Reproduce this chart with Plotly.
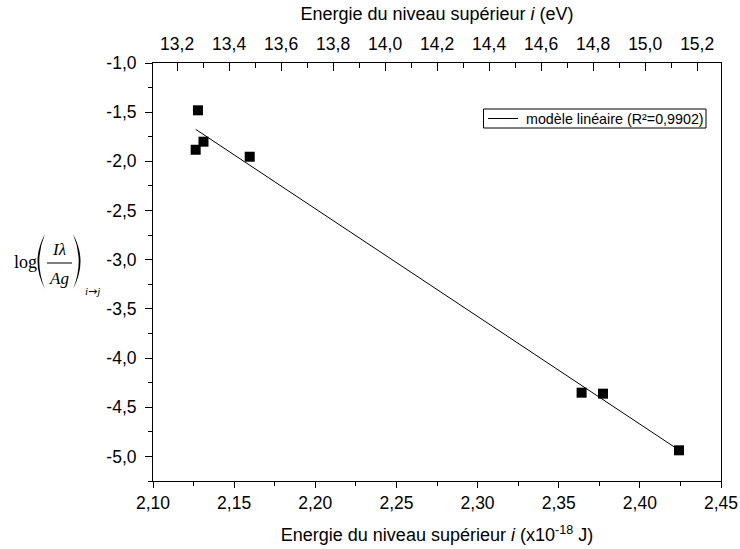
import numpy as np
import plotly.graph_objects as go

# ---- data ----
energy_J = [2.1263, 2.1277, 2.1311, 2.1596, 2.3641, 2.3773, 2.4241]   # x10^-18 J
log_ratio = [-1.882, -1.481, -1.800, -1.953, -4.352, -4.362, -4.938]
legend_label = "modèle linéaire (R²=0,9902)"

x_tickvals = [2.10, 2.15, 2.20, 2.25, 2.30, 2.35, 2.40, 2.45]
x_ticklabels = ["2,10", "2,15", "2,20", "2,25", "2,30", "2,35", "2,40", "2,45"]
x2_tickvals = [13.2, 13.4, 13.6, 13.8, 14.0, 14.2, 14.4, 14.6, 14.8, 15.0, 15.2]
x2_ticklabels = ["13,2", "13,4", "13,6", "13,8", "14,0", "14,2", "14,4", "14,6", "14,8", "15,0", "15,2"]
y_tickvals = [-1.0, -1.5, -2.0, -2.5, -3.0, -3.5, -4.0, -4.5, -5.0]
y_ticklabels = ["-1,0", "-1,5", "-2,0", "-2,5", "-3,0", "-3,5", "-4,0", "-4,5", "-5,0"]

J_TO_EV = 1e-18 / 1.602176634e-19
energy_eV = [e * J_TO_EV for e in energy_J]

# linear fit
slope, intercept = np.polyfit(energy_J, log_ratio, 1)
fit_x = [min(energy_J), max(energy_J)]
fit_y = [slope * v + intercept for v in fit_x]

W, H = 740, 549
ML, MR, MT, MB = 153, 19, 63, 68
PW, PH = W - ML - MR, H - MT - MB

def px(xp):
    return (xp - ML) / PW

def py(yp):
    return (H - MB - yp) / PH

fig = go.Figure()
fig.add_trace(go.Scatter(x=energy_J, y=log_ratio, mode="markers",
                         marker=dict(symbol="square", size=10, color="black"),
                         showlegend=False, hoverinfo="skip"))
fig.add_trace(go.Scatter(x=fit_x, y=fit_y, mode="lines",
                         line=dict(color="black", width=1), name=legend_label,
                         showlegend=False))
fig.add_trace(go.Scatter(x=energy_eV, y=log_ratio, xaxis="x2", mode="markers",
                         marker=dict(opacity=0), showlegend=False, hoverinfo="skip"))

tickfont = dict(family="Liberation Sans, Arial", size=17.5, color="black")
titlefont = dict(family="Liberation Sans, Arial", size=18, color="black")

fig.update_layout(
    width=W, height=H,
    margin=dict(l=ML, r=MR, t=MT, b=MB, autoexpand=False),
    paper_bgcolor="white", plot_bgcolor="white",
    font=dict(family="Liberation Sans, Arial", color="black"),
    showlegend=False,
    xaxis=dict(range=[2.10, 2.45], tickmode="array", tickvals=x_tickvals, ticktext=x_ticklabels,
               ticks="outside", ticklen=6, tickwidth=1, tickcolor="black",
               showline=True, linecolor="black", linewidth=1, mirror=False,
               showgrid=False, zeroline=False, tickfont=tickfont, automargin=False,
               minor=dict(tickmode="linear", tick0=2.10, dtick=0.025, ticks="outside",
                          ticklen=4, tickcolor="black", showgrid=False),
               title=dict(text="Energie du niveau supérieur <i>i</i> (x10<sup>-18</sup> J)",
                          font=titlefont, standoff=16)),
    xaxis2=dict(overlaying="x", side="top", range=[2.10 * J_TO_EV, 2.45 * J_TO_EV],
                tickmode="array", tickvals=x2_tickvals, ticktext=x2_ticklabels,
                ticks="inside", ticklen=8, tickwidth=1, tickcolor="black",
                showline=True, linecolor="black", linewidth=1, automargin=False,
                showgrid=False, zeroline=False, tickfont=tickfont, ticklabelstandoff=5,
                minor=dict(tickmode="linear", tick0=13.1, dtick=0.1, ticks="inside",
                           ticklen=5, tickcolor="black", showgrid=False),
                title=dict(text="Energie du niveau supérieur <i>i</i> (eV)",
                           font=titlefont, standoff=8)),
    yaxis=dict(range=[-5.25, -1.0], tickmode="array", tickvals=y_tickvals, ticktext=y_ticklabels,
               ticks="outside", ticklen=7, tickwidth=1, tickcolor="black",
               showline=True, linecolor="black", linewidth=1, mirror=True,
               showgrid=False, zeroline=False, tickfont=tickfont, automargin=False,
               ticklabelstandoff=5,
               minor=dict(tickmode="linear", tick0=-1.0, dtick=0.25, ticks="outside",
                          ticklen=4, tickcolor="black", showgrid=False)),
)

# legend box (drawn manually to match the compact frame of the reference)
fig.add_shape(type="rect", xref="paper", yref="paper",
              x0=px(483.5), x1=px(706), y0=py(109), y1=py(128),
              line=dict(color="black", width=1), fillcolor="white", layer="above")
fig.add_shape(type="line", xref="paper", yref="paper",
              x0=px(488), x1=px(518), y0=py(118.5), y1=py(118.5),
              line=dict(color="black", width=1), layer="above")
fig.add_annotation(text=legend_label, x=px(524), y=py(118.5), xref="paper", yref="paper",
                   xanchor="left", yanchor="middle", showarrow=False,
                   font=dict(family="Liberation Sans, Arial", size=14.3, color="black"))

serif = "Liberation Serif, Times New Roman"
ann = [
    dict(text="log", x=px(25), y=py(262), size=18),
    dict(text="<i>Iλ</i>", x=px(59), y=py(249), size=17),
    dict(text="<i>Ag</i>", x=px(59), y=py(278), size=17),
    dict(text="<i>i</i><span style='font-family:DejaVu Sans'>→</span><i>j</i>",
         x=px(92), y=py(291), size=11),
]
for a in ann:
    fig.add_annotation(text=a["text"], x=a["x"], y=a["y"], xref="paper", yref="paper",
                       xanchor="center", yanchor="middle", showarrow=False,
                       font=dict(family=serif, size=a["size"], color="black"))

# fraction bar
fig.add_shape(type="line", xref="paper", yref="paper",
              x0=px(47), x1=px(72), y0=py(263), y1=py(263),
              line=dict(color="black", width=1))

def paren(x_end, bulge_out, bulge_in, y_top, y_bot):
    xc_out = 2 * bulge_out - x_end
    xc_in = 2 * bulge_in - x_end
    ym = (y_top + y_bot) / 2
    return (f"M {px(x_end)},{py(y_top)} Q {px(xc_out)},{py(ym)} {px(x_end)},{py(y_bot)} "
            f"Q {px(xc_in)},{py(ym)} {px(x_end)},{py(y_top)} Z")

fig.add_shape(type="path", xref="paper", yref="paper",
              path=paren(45, 37.5, 39.3, 234, 289), fillcolor="black", line=dict(width=0))
fig.add_shape(type="path", xref="paper", yref="paper",
              path=paren(73, 80.5, 78.7, 234, 289), fillcolor="black", line=dict(width=0))

fig.write_html("out.html", config={"displayModeBar": False},
               post_script="document.body.style.margin='0';document.body.style.overflow='hidden';")
